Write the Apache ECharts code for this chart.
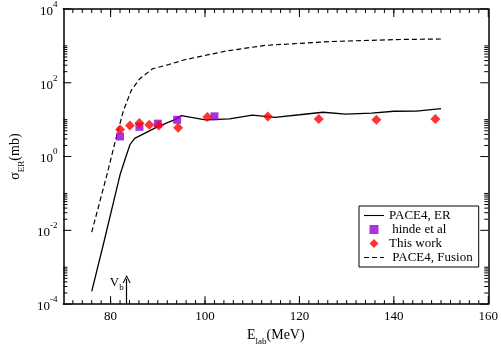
<!DOCTYPE html>
<html>
<head>
<meta charset="utf-8">
<script src="https://cdn.jsdelivr.net/npm/echarts@6/dist/echarts.min.js"></script>
<style>
  html, body { margin: 0; padding: 0; background: #fff; }
  #chart { width: 501px; height: 351px; }
</style>
</head>
<body>
<div id="chart"></div>
<script>
// PACE4 evaporation residue curve
const erE = [76.0, 78.6, 80.7, 82.0, 83.1, 84.1, 85.1, 89.9, 93.6, 95.0, 100.1, 105.2, 110.0, 114.8, 120.0, 125.0, 129.8, 135.3, 140.0, 144.8, 150.0];
const erSigma = [2.2e-4, 4.9e-3, 0.065, 0.32, 0.87, 2.1, 3.1, 6.4, 10, 12.9, 9.9, 10.5, 13.3, 11.6, 13.6, 15.9, 14.1, 15.0, 16.9, 17.0, 19.9];

// PACE4 fusion curve
const fusionE = [76.0, 79.3, 80.9, 82.7, 84.4, 86.1, 88.9, 92.3, 95.7, 100.5, 104.6, 112.7, 126.4, 140.0, 150.1];
const fusionSigma = [8.9e-3, 0.35, 2.35, 17.3, 63, 126, 240, 312, 420, 568, 730, 1030, 1310, 1480, 1540];

// hinde et al
const hindeE = [82.0, 86.1, 90.0, 94.1, 102.0];
const hindeSigma = [3.5, 6.4, 7.8, 9.9, 12.3];

// This work
const thisE = [82.0, 84.1, 86.1, 88.2, 90.2, 94.3, 100.5, 113.3, 124.1, 136.3, 148.8];
const thisSigma = [5.4, 6.9, 8.1, 7.3, 6.9, 6.0, 11.8, 12.1, 10.5, 9.9, 10.5];

// barrier marker
const vbE = 83.4;
const vbTop = 4.8e-4;

// ticks
const xMajor = [80, 100, 120, 140, 160];
const yMajor = [1e-4, 1e-2, 1, 1e2, 1e4];

const xMinor = [];
for (let v = 72; v <= 158; v += 2) xMinor.push(v);
const yMinor = [];
[-4, -2, 0, 2].forEach((d) => {
  for (let k = 2; k <= 10; k++) yMinor.push(+(k * Math.pow(10, d)).toPrecision(3));
});

const X_MIN = 70, X_MAX = 160, Y_MIN = 1e-4, Y_MAX = 1e4;
const MAJOR = 8, MINOR = 4;

// tick table for the custom series: [x, y, length, side] (0 bottom, 1 top, 2 left, 3 right)
const tickRows = [];
xMajor.forEach((v) => tickRows.push([v, Y_MIN, MAJOR, 0], [v, Y_MAX, MAJOR, 1]));
xMinor.forEach((v) => tickRows.push([v, Y_MIN, MINOR, 0], [v, Y_MAX, MINOR, 1]));
yMajor.forEach((v) => tickRows.push([X_MIN, v, MAJOR, 2], [X_MAX, v, MAJOR, 3]));
yMinor.forEach((v) => tickRows.push([X_MIN, v, MINOR, 2], [X_MAX, v, MINOR, 3]));

const FONT = "Liberation Serif";
const frame = { show: true, onZero: false, lineStyle: { color: "#000", width: 1.5 } };

const titleRich = {
  a: { fontFamily: FONT, fontSize: 14, color: "#000", verticalAlign: "top", lineHeight: 18 },
  s: { fontFamily: FONT, fontSize: 9, color: "#000", verticalAlign: "bottom", lineHeight: 18 },
};

const xAxes = [
  {
    type: "value", position: "bottom", min: X_MIN, max: X_MAX,
    axisLine: frame, splitLine: { show: false }, axisTick: { show: false },
    axisLabel: { show: true, customValues: xMajor, margin: 6, color: "#000", fontFamily: FONT, fontSize: 13 },
    name: "{a|E}{s|lab}{a|(MeV)}", nameLocation: "middle", nameGap: 19,
    nameTextStyle: { rich: titleRich },
  },
  {
    type: "value", position: "top", min: X_MIN, max: X_MAX,
    axisLine: frame, splitLine: { show: false }, axisTick: { show: false }, axisLabel: { show: false },
  },
];

const yAxes = [
  {
    type: "log", logBase: 10, position: "left", min: Y_MIN, max: Y_MAX,
    axisLine: frame, splitLine: { show: false }, axisTick: { show: false }, minorTick: { show: false },
    axisLabel: {
      show: true, customValues: yMajor, margin: 6,
      formatter: (v) => "{b|10}{e|" + Math.round(Math.log10(v)) + "}",
      rich: {
        b: { fontFamily: FONT, fontSize: 13, color: "#000", verticalAlign: "bottom", lineHeight: 18 },
        e: { fontFamily: FONT, fontSize: 9, color: "#000", verticalAlign: "top", lineHeight: 18 },
      },
    },
    name: "{a|σ}{s|ER}{a|(mb)}", nameLocation: "middle", nameGap: 30,
    nameTextStyle: { rich: titleRich },
  },
  {
    type: "log", logBase: 10, position: "right", min: Y_MIN, max: Y_MAX,
    axisLine: frame, splitLine: { show: false }, axisTick: { show: false }, minorTick: { show: false },
    axisLabel: { show: false },
  },
];

const zip = (a, b) => a.map((v, i) => [v, b[i]]);

const chart = echarts.init(document.getElementById("chart"));
chart.setOption({
  animation: false,
  grid: { left: 51, right: 9, top: 7, bottom: 36 },
  xAxis: xAxes,
  yAxis: yAxes,
  legend: {
    orient: "vertical",
    left: 359, top: 206,
    padding: [3, 6, 3, 5],
    itemGap: 1,
    itemWidth: 20, itemHeight: 9,
    borderColor: "#000", borderWidth: 1,
    backgroundColor: "#fff",
    textStyle: { fontFamily: FONT, fontSize: 13, color: "#000", lineHeight: 12.5 },
    data: [
      { name: "PACE4, ER", icon: "path://M0,0h20v1.1h-20z" },
      { name: " hinde et al", icon: "path://M0,0h10v10h-10z" },
      { name: "This work", icon: "path://M5,0L10,5L5,10L0,5Z" },
      { name: " PACE4, Fusion", icon: "path://M0,0h5v1.1h-5z M8,0h5v1.1h-5z M16,0h4v1.1h-4z" },
    ],
  },
  series: [
    {
      // inward ticks on all four sides of the frame
      type: "custom", xAxisIndex: 0, yAxisIndex: 0, silent: true, clip: false,
      data: tickRows,
      renderItem: (params, api) => {
        const p = api.coord([api.value(0), api.value(1)]);
        const len = api.value(2);
        const side = api.value(3);
        const dx = side === 2 ? len : side === 3 ? -len : 0;
        const dy = side === 0 ? -len : side === 1 ? len : 0;
        return {
          type: "line",
          shape: { x1: p[0], y1: p[1], x2: p[0] + dx, y2: p[1] + dy },
          style: { stroke: "#000", lineWidth: 1 },
        };
      },
      z: 6,
    },
    {
      name: "PACE4, ER", type: "line", data: zip(erE, erSigma),
      showSymbol: false, symbol: "none",
      lineStyle: { color: "#000", width: 1.3 }, itemStyle: { color: "#000" },
      markLine: {
        silent: true,
        symbol: ["none", "path://M0,10 L5,0 L10,10 L8.6,10 L5,2.8 L1.4,10 Z"],
        symbolSize: [8, 8],
        label: { show: false },
        lineStyle: { color: "#000", width: 1.2, type: "solid" },
        data: [[{ coord: [vbE, Y_MIN] }, { coord: [vbE, vbTop] }]],
      },
      markPoint: {
        silent: true,
        symbol: "circle", symbolSize: 0,
        itemStyle: { color: "transparent" },
        label: {
          show: true, position: "left", distance: 3, offset: [0, 5],
          formatter: "{a|V}{s|b}",
          rich: {
            a: { fontFamily: FONT, fontSize: 13, color: "#000", verticalAlign: "top", lineHeight: 16 },
            s: { fontFamily: FONT, fontSize: 9, color: "#000", verticalAlign: "bottom", lineHeight: 16 },
          },
        },
        data: [{ coord: [vbE, vbTop] }],
      },
      z: 3,
    },
    {
      name: " hinde et al", type: "scatter", data: zip(hindeE, hindeSigma),
      symbol: "rect", symbolSize: 8,
      itemStyle: { color: "#9400d3" }, z: 4,
    },
    {
      name: "This work", type: "scatter", data: zip(thisE, thisSigma),
      symbol: "diamond", symbolSize: 10,
      itemStyle: { color: "#ff0000" }, z: 5,
    },
    {
      name: " PACE4, Fusion", type: "line", data: zip(fusionE, fusionSigma),
      showSymbol: false, symbol: "none",
      lineStyle: { color: "#000", width: 1.2, type: [5, 3] }, itemStyle: { color: "#000" },
      z: 3,
    },
  ],
});
</script>
</body>
</html>
